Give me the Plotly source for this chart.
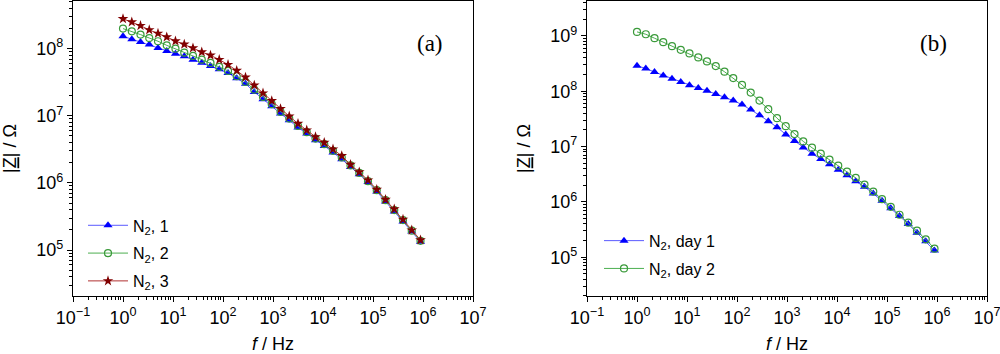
import plotly.graph_objects as go

# frequency (Hz)
freq = [1, 1.50, 2.24, 3.35, 5.01, 7.50, 11.2, 16.8, 25.1, 37.6, 56.2, 84.1, 126, 188,
        282, 422, 631, 944, 1413, 2113, 3162, 4732, 7079, 10593, 15849, 23714, 35481,
        53088, 79433, 118850, 177828, 266073, 398107, 595662, 891251]

# panel (a)
a_n2_1 = [1.53e8, 1.38e8, 1.26e8, 1.15e8, 1.02e8, 9.23e7, 8.43e7, 7.69e7, 6.86e7, 6.19e7,
          5.52e7, 4.93e7, 4.35e7, 3.62e7, 3.01e7, 2.27e7, 1.76e7, 1.39e7, 1.08e7, 8.58e6,
          6.68e6, 5.44e6, 4.33e6, 3.56e6, 2.84e6, 2.26e6, 1.73e6, 1.35e6, 1.03e6, 7.45e5,
          5.29e5, 3.76e5, 2.67e5, 1.89e5, 1.33e5]
a_n2_2 = [1.99e8, 1.81e8, 1.62e8, 1.44e8, 1.29e8, 1.12e8, 1.00e8, 8.71e7, 7.78e7, 6.86e7,
          6.12e7, 5.34e7, 4.66e7, 3.88e7, 3.19e7, 2.45e7, 1.91e7, 1.49e7, 1.14e7, 9.09e6,
          7.07e6, 5.69e6, 4.58e6, 3.77e6, 3.00e6, 2.39e6, 1.82e6, 1.41e6, 1.06e6, 7.80e5,
          5.53e5, 3.93e5, 2.79e5, 1.94e5, 1.37e5]
a_n2_3 = [2.79e8, 2.49e8, 2.20e8, 1.90e8, 1.69e8, 1.49e8, 1.30e8, 1.16e8, 1.02e8, 8.90e7,
          7.96e7, 6.86e7, 5.78e7, 4.71e7, 3.75e7, 2.85e7, 2.17e7, 1.67e7, 1.27e7, 9.85e6,
          7.66e6, 6.10e6, 4.85e6, 3.99e6, 3.18e6, 2.53e6, 1.88e6, 1.45e6, 1.10e6, 7.98e5,
          5.66e5, 4.07e5, 2.86e5, 1.98e5, 1.41e5]

# panel (b)
b_day1 = [2.88e8, 2.58e8, 2.22e8, 1.93e8, 1.68e8, 1.47e8, 1.28e8, 1.14e8, 1.02e8, 8.91e7,
          7.76e7, 6.78e7, 5.74e7, 4.67e7, 3.69e7, 2.88e7, 2.24e7, 1.66e7, 1.26e7, 9.66e6,
          7.43e6, 5.96e6, 4.77e6, 3.83e6, 3.03e6, 2.36e6, 1.87e6, 1.42e6, 1.05e6, 7.72e5,
          5.55e5, 3.98e5, 2.78e5, 1.94e5, 1.32e5]
b_day2 = [1.18e9, 1.07e9, 9.08e8, 7.69e8, 6.52e8, 5.60e8, 4.81e8, 4.08e8, 3.45e8, 2.85e8,
          2.25e8, 1.73e8, 1.30e8, 9.44e7, 6.78e7, 4.73e7, 3.26e7, 2.34e7, 1.68e7, 1.24e7,
          9.53e6, 7.43e6, 5.80e6, 4.52e6, 3.52e6, 2.71e6, 2.06e6, 1.54e6, 1.12e6, 8.16e5,
          5.86e5, 4.21e5, 3.02e5, 2.11e5, 1.43e5]

x_exps = list(range(-1, 8))
ya_exps = [5, 6, 7, 8]
yb_exps = [5, 6, 7, 8, 9]

FONT = "Liberation Sans, Arial, sans-serif"
SERIF = "Liberation Serif, Times New Roman, serif"

def sup(p):
    s = str(p) if p >= 0 else "\u2212" + str(-p)
    return "10<sup>" + s + "</sup>"

def minor_vals(lo, hi):
    return [k * 10.0 ** n for n in range(lo, hi) for k in range(2, 10)]

fig = go.Figure()

BLUE_L, BLUE_M = "#5a5aff", "#0000ff"
GREEN_L, GREEN_M = "#4caf50", "#3a9a3a"
RED_L, RED_M = "#b03030", "#800000"

def add(x, y, name, lc, mc, sym, size, xa, ya, leg, grp, open_=False):
    fig.add_trace(go.Scatter(
        x=x, y=y, name=name, mode="lines+markers", xaxis=xa, yaxis=ya,
        legend=leg, legendgroup=grp,
        line=dict(color=lc, width=1),
        marker=dict(symbol=sym, size=size, color=mc,
                    line=dict(color=mc, width=1.2 if open_ else 0)),
    ))

add(freq, a_n2_1, "N<sub>2</sub>, 1", BLUE_L, BLUE_M, "triangle-up", 8, "x", "y", "legend", "a1")
add(freq, a_n2_2, "N<sub>2</sub>, 2", GREEN_L, GREEN_M, "circle-open", 7, "x", "y", "legend", "a2", open_=True)
add(freq, a_n2_3, "N<sub>2</sub>, 3", RED_L, RED_M, "star", 8, "x", "y", "legend", "a3")
add(freq, b_day1, "N<sub>2</sub>, day 1", BLUE_L, BLUE_M, "triangle-up", 8, "x2", "y2", "legend2", "b1")
add(freq, b_day2, "N<sub>2</sub>, day 2", GREEN_L, GREEN_M, "circle-open", 7, "x2", "y2", "legend2", "b2", open_=True)

axis_common = dict(
    type="log", showline=True, linecolor="black", linewidth=1.3, mirror=True,
    showgrid=False, zeroline=False, ticks="outside", ticklen=5, tickwidth=1,
    tickcolor="black", tickfont=dict(family=FONT, size=18, color="black"),
    tickmode="array", automargin=False, ticklabeloverflow="allow",
)

def xaxis(domain, anchor):
    return dict(axis_common, domain=domain, anchor=anchor, range=[-1, 7],
                tickvals=[10.0 ** p for p in x_exps], ticktext=[sup(p) for p in x_exps],
                minor=dict(ticks="outside", ticklen=3, tickwidth=1, tickcolor="black",
                           tickmode="array", tickvals=minor_vals(-1, 7)),
                title=dict(text="<i>f</i> / Hz", font=dict(family=FONT, size=18, color="black"),
                           standoff=16))

def yaxis(rng, exps, anchor):
    return dict(axis_common, domain=[0, 1], anchor=anchor, range=rng,
                tickvals=[10.0 ** p for p in exps], ticktext=[sup(p) for p in exps],
                minor=dict(ticks="outside", ticklen=3, tickwidth=1, tickcolor="black",
                           tickmode="array", tickvals=minor_vals(4, 10)),
                title=dict(text="|<u>Z</u>| / \u03a9", font=dict(family=FONT, size=18, color="black"),
                           standoff=14))

leg_common = dict(xanchor="left", yanchor="top", bgcolor="rgba(0,0,0,0)",
                  font=dict(family=FONT, size=16, color="black"), traceorder="grouped",
                  tracegroupgap=4, itemwidth=40)

fig.update_layout(
    width=1000, height=354,
    margin=dict(l=0, r=0, t=1, b=58),
    paper_bgcolor="white", plot_bgcolor="white",
    xaxis=xaxis([0.073, 0.473], "y"),
    yaxis=yaxis([4.315, 8.71], ya_exps, "x"),
    xaxis2=xaxis([0.587, 0.987], "y2"),
    yaxis2=yaxis([4.30, 9.63], yb_exps, "x2"),
    legend=dict(leg_common, x=0.083, y=0.297),
    legend2=dict(leg_common, x=0.599, y=0.245),
    annotations=[
        dict(text="(a)", xref="x domain", yref="y domain", x=0.8925, y=0.855,
             xanchor="center", yanchor="middle",
             showarrow=False, font=dict(family=SERIF, size=23, color="black")),
        dict(text="(b)", xref="x2 domain", yref="y2 domain", x=0.865, y=0.855,
             xanchor="center", yanchor="middle",
             showarrow=False, font=dict(family=SERIF, size=23, color="black")),
    ],
)

fig.write_html("out.html", config={"displayModeBar": False},
               post_script="document.body.style.margin='0';document.body.style.overflow='hidden';")
